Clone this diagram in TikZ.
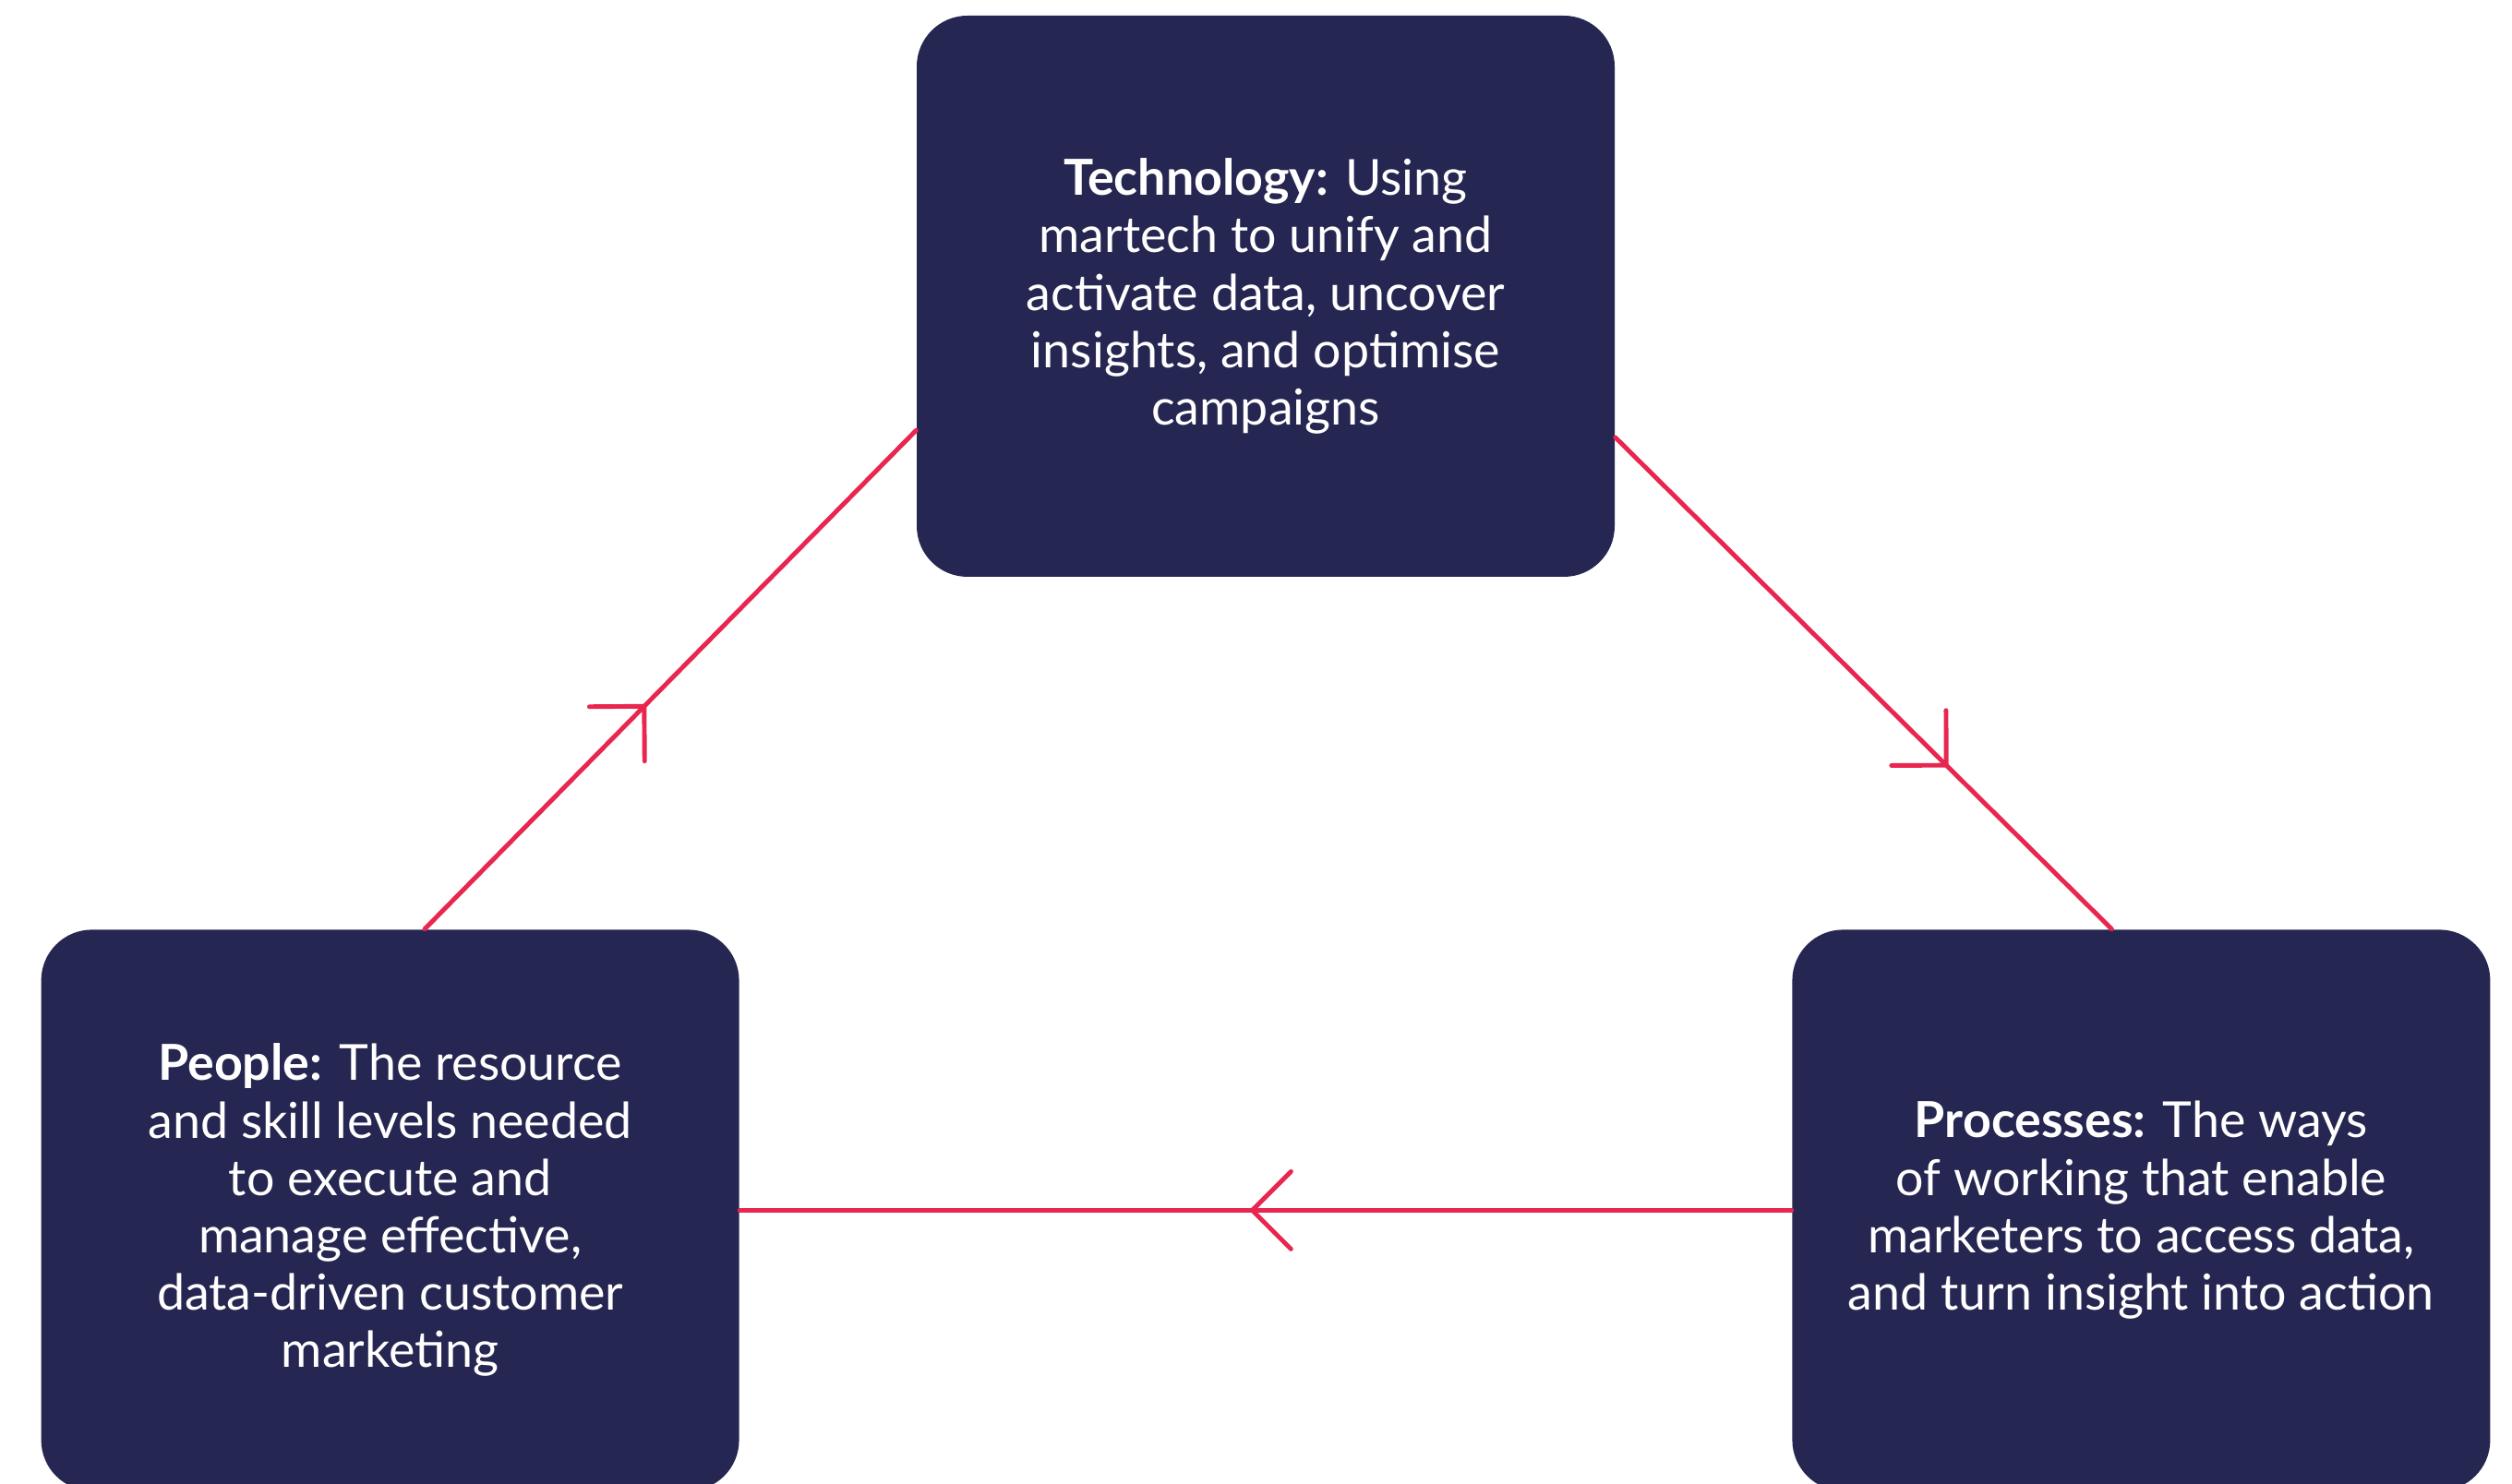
\documentclass[tikz,border=0pt]{standalone}
\usepackage{fontspec}
\setmainfont{Lato}
\usepackage{tikz}
\usetikzlibrary{arrows.meta,positioning,decorations.markings}
\definecolor{navy}{RGB}{38,38,82}
\definecolor{rose}{RGB}{232,38,79}

\begin{document}
\begin{tikzpicture}[
  card/.style={rectangle,rounded corners=5.5mm,fill=navy,text=white,align=center,minimum width=7.56cm,minimum height=6.08cm,inner sep=0pt,font=\fontsize{15.3}{17.7}\selectfont},
  flow/.style={draw=rose,line width=1.4pt,line cap=round,postaction={decorate},
    decoration={markings,mark=at position #1 with {\arrow[rose]{Straight Barb[length=4.2mm,width=8.4mm,round]}}}}
]
\useasboundingbox (0,0) rectangle (27.21,16.08);
\node[card] (tech) at (13.71,12.87) {\textbf{Technology:} Using\\martech to unify and\\activate data, uncover\\insights, and optimise\\campaigns};
\node[card,below left=3.81cm and 1.91cm of tech] (people) {\textbf{People:} The resource\\and skill levels needed\\to execute and\\manage effective,\\data-driven customer\\marketing};
\node[card,below right=3.81cm and 1.91cm of tech] (proc) {\textbf{Processes:} The ways\\of working that enable\\marketers to access data,\\and turn insight into action};
\draw[flow=0.45] (people.83.7) -- (tech.201.8);
\draw[flow=0.67] (tech.338.2) -- (proc.96.6);
\draw[flow=0.515] (proc.west) -- (people.east);
\end{tikzpicture}
\end{document}
